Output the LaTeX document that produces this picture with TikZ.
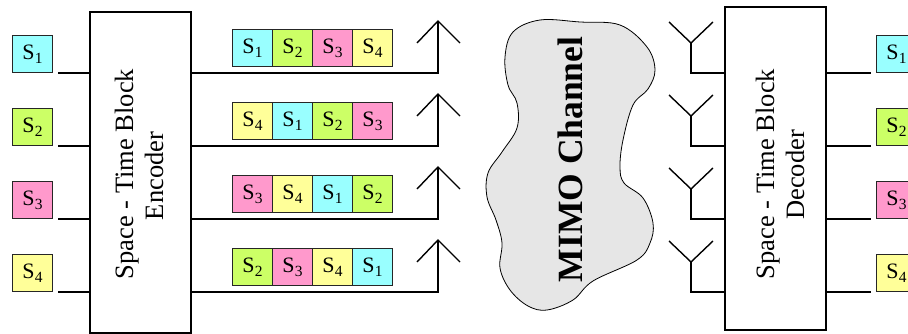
\documentclass[tikz,border=0pt]{standalone}
\usepackage{fontspec}
\setmainfont{Liberation Serif}
\definecolor{c1}{HTML}{99FFFF}
\definecolor{c2}{HTML}{CCFF66}
\definecolor{c3}{HTML}{FF99CC}
\definecolor{c4}{HTML}{FFFF99}
\definecolor{cloudgray}{HTML}{E6E6E6}
\newcommand\symb[1]{\fontsize{22}{22}\selectfont S\kern0.2pt\raisebox{-4pt}{\fontsize{15.5}{15.5}\selectfont #1}}
\begin{document}
\begin{tikzpicture}[x=1pt,y=-1pt,
  sym/.style={draw=black!85, line width=1pt, minimum width=40pt, minimum height=37pt,
    inner sep=0pt},
  wire/.style={line width=1.4pt, line join=miter},
  stbox/.style={draw, line width=1.1pt, fill=white, inner sep=0pt},
  stlabel/.style={rotate=90, anchor=base, font=\fontsize{26.5}{30}\selectfont}
]
\useasboundingbox (0,0) rectangle (908,334);
\clip (0,0) rectangle (908,334);

% encoder and decoder blocks
\node[stbox, minimum width=101pt, minimum height=321pt] (enc) at (140.5,172.5) {};
\node[stlabel] (enc-a) at (133,174) {Space - Time Block};
\node[stlabel] (enc-b) at (163,176) {Encoder};
\node[stbox, minimum width=101pt, minimum height=323pt] (dec) at (775.5,168.5) {};
\node[stlabel] (dec-a) at (774,174) {Space - Time Block};
\node[stlabel] (dec-b) at (804,175) {Decoder};

% channel cloud
\draw[fill=cloudgray, line width=0.8pt] plot[smooth cycle, tension=0.6] coordinates {
  (513,32) (540,20) (580,22) (620,25) (647,47) (655,70) (648,89) (633,105)
  (623,140) (620,167) (624,183) (643,198) (653,223) (650,243) (637,260)
  (593,281) (573,300) (547,310) (528,306) (510,290) (500,268) (502,243)
  (496,220) (487,197) (488,173) (502,152) (517,128) (517,103) (508,85) (505,57)};
\node[rotate=90, anchor=base, font=\bfseries\fontsize{35.5}{36}\selectfont] (mimo)
  at (582,159.5) {MIMO Channel};

\foreach \k in {1,2,3,4} {
  \pgfmathsetmacro\yk{73*\k}
  % input and output symbols
  \node[sym, fill=c\k, anchor=south west] (in\k) at (12,\yk) {\symb{\k}};
  \node[sym, fill=c\k, anchor=south west] (out\k) at (876,\yk) {\symb{\k}};
  \draw[wire] ([xshift=5pt]in\k.south east) -- (enc.west |- in\k.south east);
  \draw[wire] (dec.east |- out\k.south west) -- ([xshift=-5pt]out\k.south west);
  % transmit antenna
  \coordinate (tx\k) at (438,\yk-52);
  \draw[wire] (enc.east |- in\k.south east) -| (tx\k);
  \draw[wire] ([shift={(-21,22)}]tx\k) -- (tx\k) -- ([shift={(22,22)}]tx\k);
  % receive antenna
  \coordinate (rx\k) at (691,\yk-30);
  \draw[wire] (dec.west |- out\k.south west) -| (rx\k);
  \draw[wire] ([shift={(-22,-21)}]rx\k) -- (rx\k) -- ([shift={(22,-21)}]rx\k);
}

% space-time coded streams
\foreach \row/\seq in {1/{1,2,3,4}, 2/{4,1,2,3}, 3/{3,4,1,2}, 4/{2,3,4,1}} {
  \pgfmathsetmacro\yk{73*\row}
  \foreach \s [count=\i from 0] in \seq {
    \node[sym, fill=c\s, anchor=south west] (b\row-\i) at ({232+40*\i},\yk-6) {\symb{\s}};
  }
}
\end{tikzpicture}
\end{document}
